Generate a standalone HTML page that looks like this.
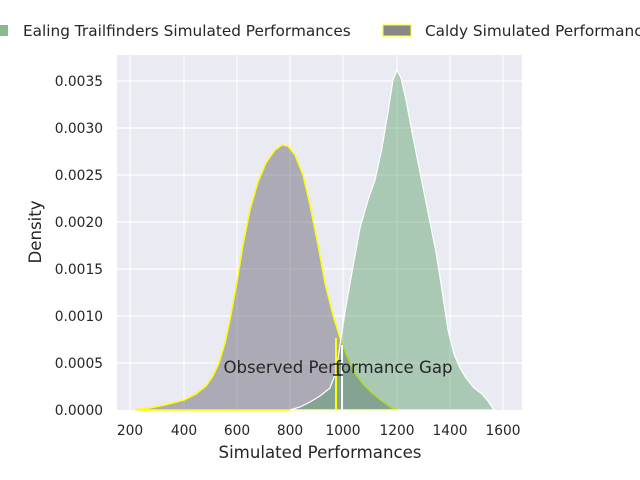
<!DOCTYPE html>
<html><head><style>body{margin:0;background:#fff}svg{display:block}text{font-family:"DejaVu Sans","Liberation Sans",sans-serif;fill:#262626}</style></head><body>
<svg width="640" height="480" viewBox="0 0 640 480">
<rect x="117" y="55" width="405" height="355" fill="#eaeaf2"/>
<g stroke="#fff" stroke-width="1.2">
<line x1="130" y1="55" x2="130" y2="410"/><line x1="184" y1="55" x2="184" y2="410"/><line x1="237" y1="55" x2="237" y2="410"/><line x1="290" y1="55" x2="290" y2="410"/><line x1="343" y1="55" x2="343" y2="410"/><line x1="397" y1="55" x2="397" y2="410"/><line x1="450" y1="55" x2="450" y2="410"/><line x1="503" y1="55" x2="503" y2="410"/>
<line x1="117" y1="363" x2="522" y2="363"/><line x1="117" y1="316" x2="522" y2="316"/><line x1="117" y1="269" x2="522" y2="269"/><line x1="117" y1="222" x2="522" y2="222"/><line x1="117" y1="175" x2="522" y2="175"/><line x1="117" y1="128" x2="522" y2="128"/><line x1="117" y1="81" x2="522" y2="81"/>
</g>
<path d="M135,410 L150,408 165,405 184,400 196,394 206,386 213,376 219,363 225,343 230,320 237,282 243,245 250,210 258,182 266,163 275,150 282,145 288,146 295,155 303,175 310,205 318,245 325,283 333,315 340,338 347,356 355,373 363,384 372,393 382,401 392,408 400,410 Z" fill="#6e6a78" fill-opacity="0.5" stroke="#ffff00" stroke-width="1.5"/>
<path d="M290,410 L300,407 310,402 320,396 330,388 336,372 340,345 345,312 352,272 360,228 368,200 375,180 382,148 388,112 393,80 397,70 401,78 406,100 412,132 420,172 428,212 436,252 442,290 448,330 454,354 460,368 466,378 474,388 482,394 488,401 494,410 Z" fill="#4f9a62" fill-opacity="0.42" stroke="#fff" stroke-width="1.2"/>
<line x1="336" y1="338" x2="336" y2="410" stroke="#ffff00" stroke-width="2"/>
<line x1="342" y1="345" x2="342" y2="410" stroke="#fff" stroke-width="2"/>
<path d="M333,364 H343 M338,364 V375 M333,375 H343" stroke="#000" stroke-width="1.2" fill="none"/>
<text x="338" y="373" font-size="16.6" text-anchor="middle">Observed Performance Gap</text>
<g font-size="13.8" text-anchor="middle">
<text x="130" y="435">200</text><text x="184" y="435">400</text><text x="237" y="435">600</text><text x="290" y="435">800</text><text x="343" y="435">1000</text><text x="397" y="435">1200</text><text x="450" y="435">1400</text><text x="503" y="435">1600</text>
</g>
<g font-size="13.8" text-anchor="end">
<text x="103" y="415">0.0000</text><text x="103" y="368">0.0005</text><text x="103" y="321">0.0010</text><text x="103" y="274">0.0015</text><text x="103" y="227">0.0020</text><text x="103" y="180">0.0025</text><text x="103" y="133">0.0030</text><text x="103" y="86">0.0035</text>
</g>
<text x="320" y="458" font-size="16.6" text-anchor="middle">Simulated Performances</text>
<text transform="translate(41,232) rotate(-90)" font-size="16.6" text-anchor="middle">Density</text>
<rect x="-20" y="25" width="28" height="11" fill="#88b98f"/>
<text x="23" y="36" font-size="15.3">Ealing Trailfinders Simulated Performances</text>
<rect x="383" y="25" width="28" height="11" fill="#888" stroke="#ffff00" stroke-width="1"/>
<text x="425" y="36" font-size="15.3">Caldy Simulated Performances</text>
</svg>
</body></html>
